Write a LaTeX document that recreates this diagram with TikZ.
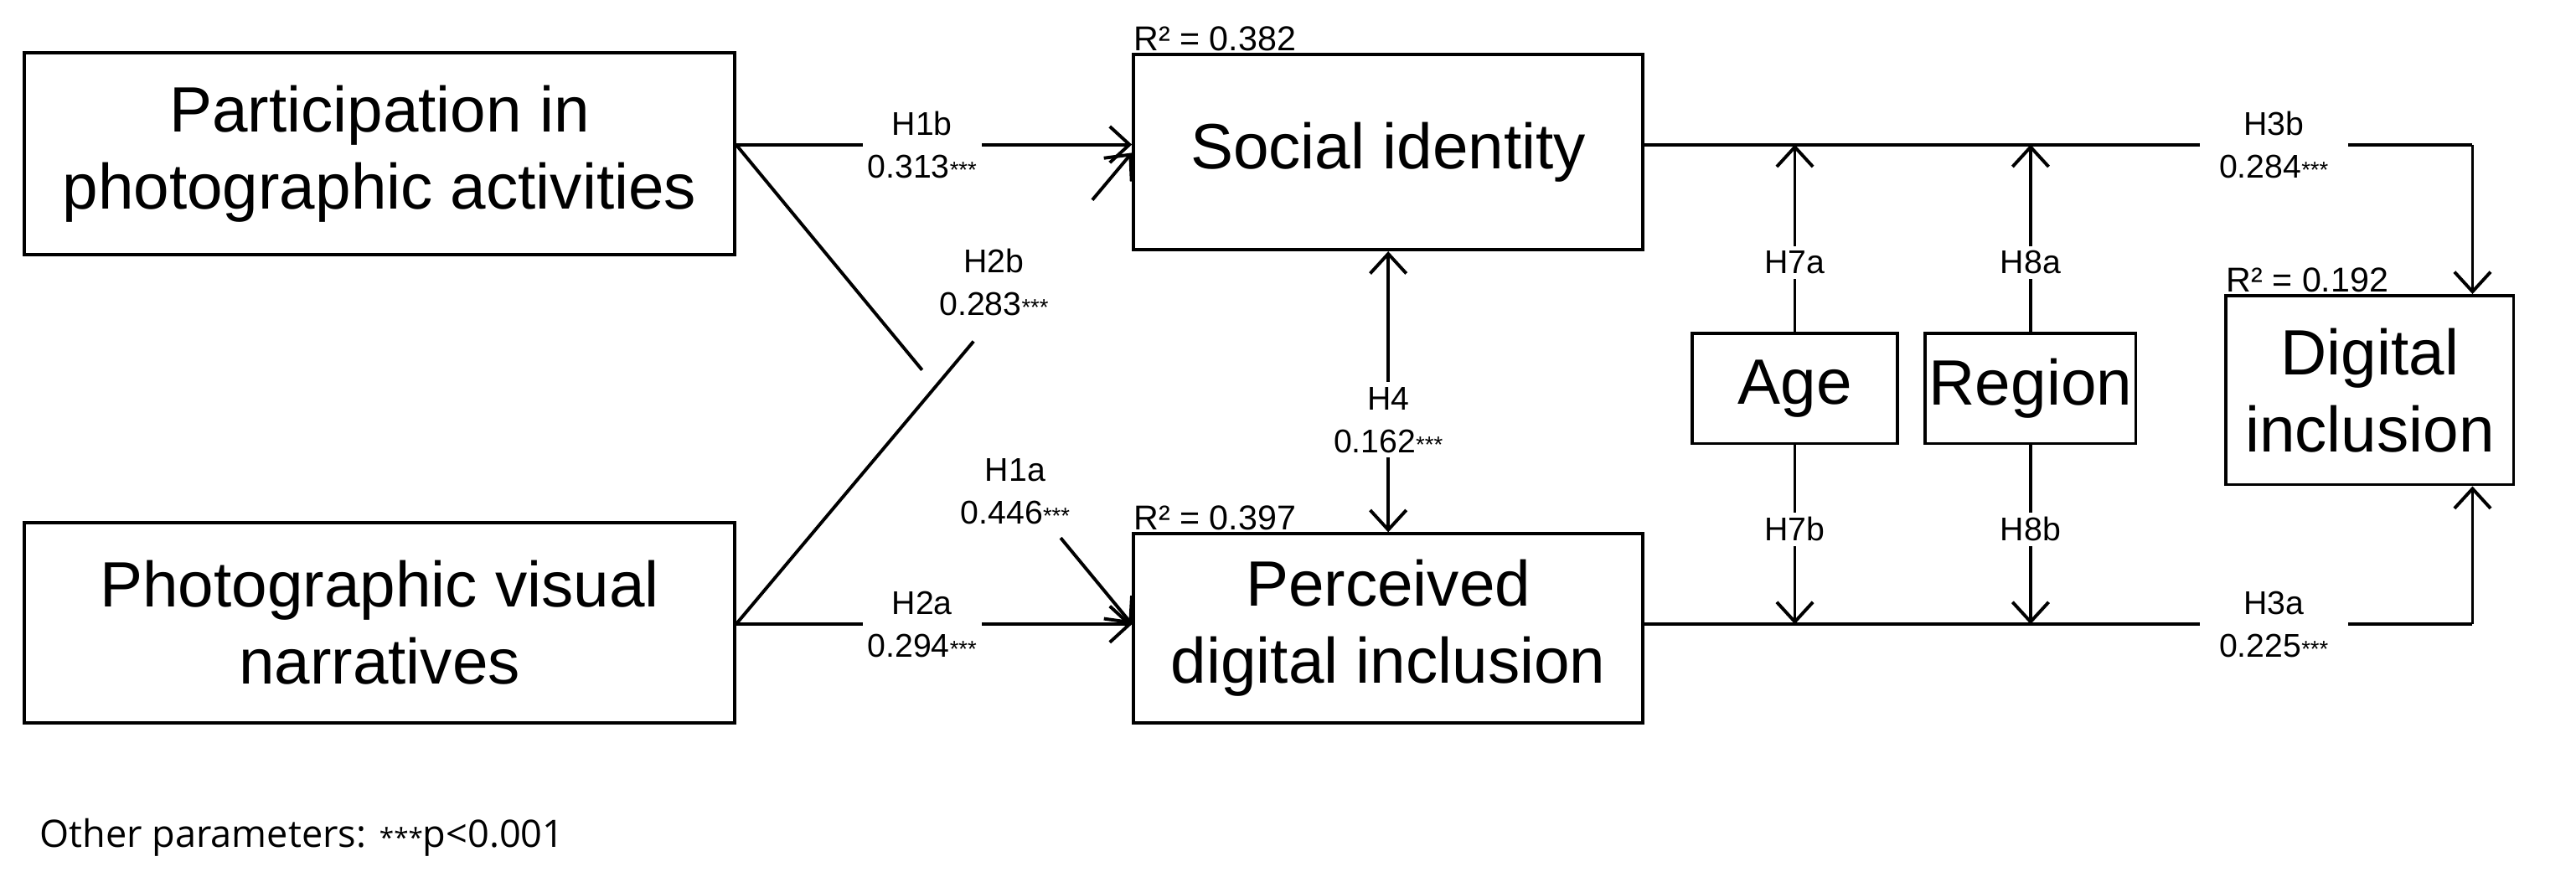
\documentclass[tikz,border=0pt]{standalone}
\usepackage{fontspec}
\setmainfont{Liberation Sans}
\newfontfamily\footfont{Open Sans}
\usetikzlibrary{arrows.meta,calc}
\newcommand{\stars}{{\fontsize{14}{14}\selectfont ***}}
\tikzset{
  x=1pt,y=-1pt,
  box/.style={draw,line width=2pt,align=center,font=\fontsize{39}{47}\selectfont,inner sep=0pt},
  lab/.style={fill=white,align=center,font=\fontsize{20}{26}\selectfont,inner sep=3pt},
  flab/.style={align=center,font=\fontsize{20}{26}\selectfont,inner sep=0pt},
  rlab/.style={anchor=south west,font=\fontsize{21}{21}\selectfont,inner sep=1pt},
  conn/.style={line width=2pt},
  arr/.style={conn,-{Straight Barb[length=12pt,width=22pt,line width=2pt]}},
  darr/.style={conn,{Straight Barb[length=12pt,width=22pt,line width=2pt]}-{Straight Barb[length=12pt,width=22pt,line width=2pt]}},
}
\begin{document}
\begin{tikzpicture}
\useasboundingbox (0,0) rectangle (1568,530.8);
\node[box,minimum width=432,minimum height=123] (P) at (231,93.5) {Participation in\\photographic activities};
\node[box,minimum width=432,minimum height=122] (V) at (231,379) {Photographic visual\\narratives};
\node[box,minimum width=310,minimum height=119] (S) at (845,92.5) {Social identity};
\node[box,minimum width=310,minimum height=115] (D) at (845,382.5) {Perceived\\digital inclusion};
\node[box,minimum width=125,minimum height=67] (A) at (1092.5,236.5) {Age};
\node[box,minimum width=128,minimum height=67] (R) at (1236,236.5) {Region};
\node[box,minimum width=175,minimum height=115] (I) at (1442.5,237.5) {Digital\\inclusion};
\node[rlab] (rS) at (S.north west) {R² = 0.382};
\node[rlab] (rD) at (D.north west) {R² = 0.397};
\node[rlab] (rI) at (I.north west) {R² = 0.192};
% left paths
\coordinate (pr) at (P.east |- 0,88);
\coordinate (vr) at (V.east |- 0,380);
\coordinate (st) at (S.west |- 0,93);
\coordinate (dt) at (D.west |- 0,380);
\draw[arr] (pr) -- node[lab,pos=0.47]{H1b\\0.313\stars} (pr -| S.west);
\draw[arr] (vr) -- node[lab,pos=0.47]{H2a\\0.294\stars} (vr -| D.west);
% H1a with gap
\draw[conn] (pr) -- ($(pr)!0.47!(dt)$);
\draw[arr] ($(pr)!0.82!(dt)$) -- (dt);
\node[flab] (l1a) at (618,299) {H1a\\0.446\stars};
% H2b with gap
\draw[conn] (vr) -- ($(vr)!0.6!(st)$);
\draw[arr] ($(vr)!0.9!(st)$) -- (st);
\node[flab] (l2b) at (605,172) {H2b\\0.283\stars};
% H4
\draw[darr] (S.south) -- node[lab,pos=0.6]{H4\\0.162\stars} (D.north);
% right paths
\coordinate (sr) at (S.east |- 0,88);
\coordinate (dr) at (D.east |- 0,380);
\coordinate (ct) at (1505,88);
\coordinate (cb) at (1505,380);
\draw[conn] (sr) -- node[lab,pos=0.76,inner xsep=12pt]{H3b\\0.284\stars} (ct);
\draw[arr] (ct) -- (ct |- I.north);
\draw[conn] (dr) -- node[lab,pos=0.76,inner xsep=12pt]{H3a\\0.225\stars} (cb);
\draw[arr] (cb) -- (cb |- I.south);
% moderators
\draw[arr] (A.north) -- node[lab,pos=0.37]{H7a} (A.north |- sr);
\draw[arr] (R.north) -- node[lab,pos=0.37]{H8a} (R.north |- sr);
\draw[arr] (A.south) -- node[lab,pos=0.47]{H7b} (A.south |- dr);
\draw[arr] (R.south) -- node[lab,pos=0.47]{H8b} (R.south |- dr);
\node[anchor=west,inner sep=0pt,font=\footfont\fontsize{23}{23}\selectfont] (foot) at (24,510) {Other parameters: {\fontsize{16}{16}\selectfont ***}p<0.001};
\end{tikzpicture}
\end{document}
